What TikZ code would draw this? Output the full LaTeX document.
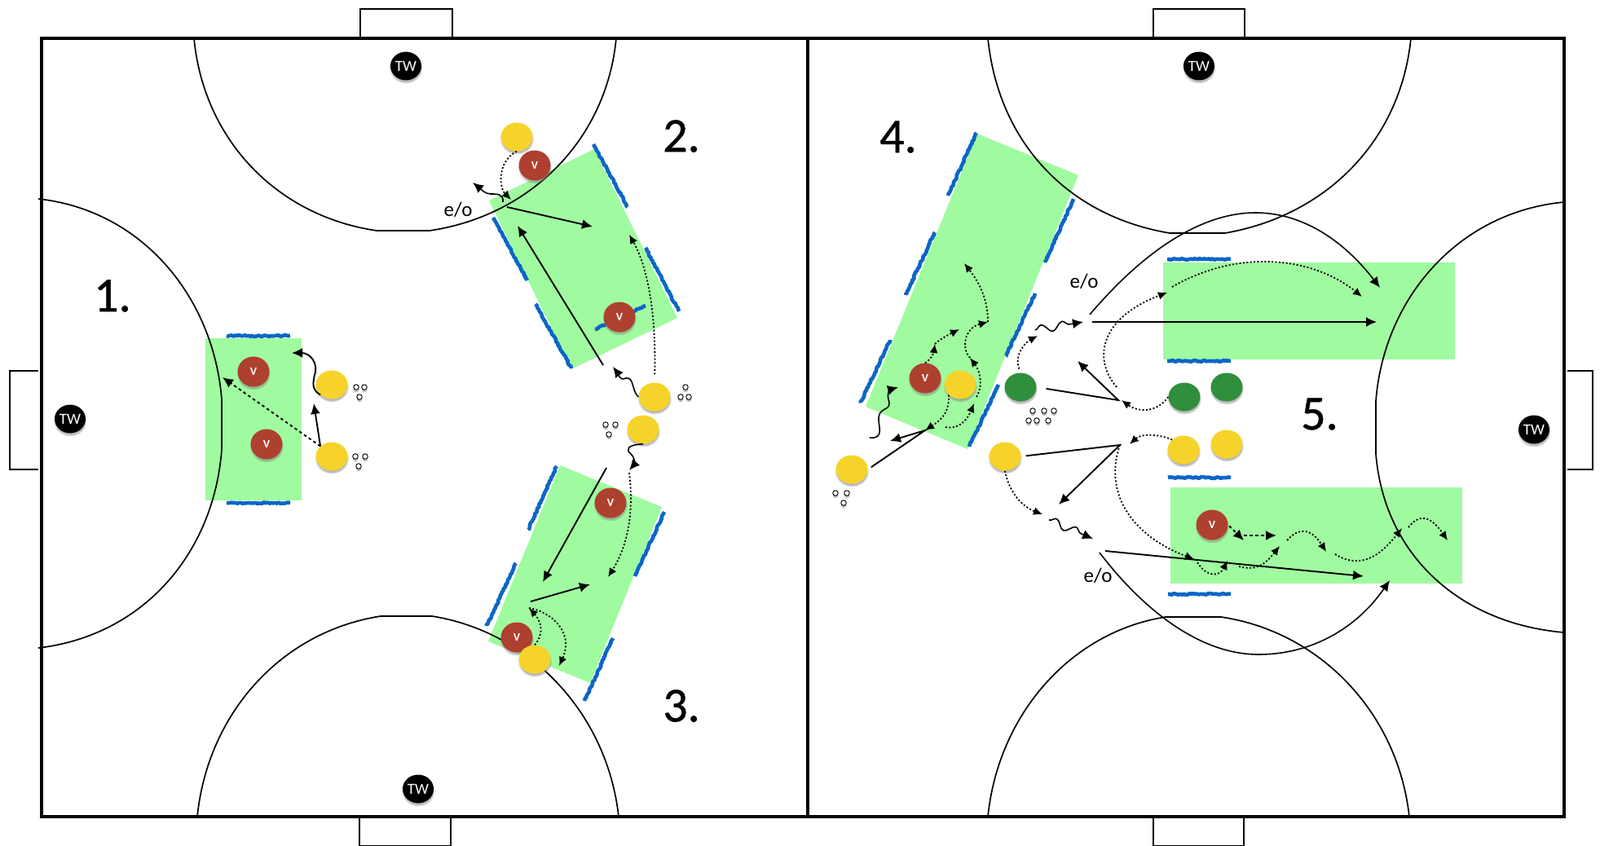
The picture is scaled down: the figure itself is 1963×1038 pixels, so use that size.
\documentclass[tikz,border=0pt]{standalone}
\usepackage{fontspec}
\setmainfont{Carlito}
\newfontfamily\numfont[FakeBold=0.8]{Carlito}
\usetikzlibrary{arrows.meta,shapes.geometric,shadows,decorations.pathmorphing}
\definecolor{zonegreen}{HTML}{9BFB9B}
\definecolor{stripeblue}{HTML}{0B66C6}
\definecolor{plyellow}{HTML}{F6D32A}
\definecolor{plred}{HTML}{AE4030}
\definecolor{plgreen}{HTML}{2F8F3C}

\begin{document}
\begin{tikzpicture}[x=1pt, y=-1pt]

\tikzstyle{zone} 	= [fill = zonegreen, fill opacity = 0.95] % training area
\tikzstyle{stripe} 	= [color = stripeblue, line width = 4.6pt, line join = bevel, decorate, decoration = {random steps, amplitude = 0.9pt, segment length = 2.2pt}] % blue side marker
\tikzstyle{line} 	= [color = black, line width = 1.7pt] % court lines
\tikzstyle{border} 	= [color = black, line width = 3.4pt] % outer court lines
\tikzstyle{shade} 	= [circular drop shadow = {shadow xshift = 0pt, shadow yshift = -2.5pt, shadow scale = 1.08, opacity = 0.55}]
\tikzstyle{player} 	= [shape = ellipse, inner sep = 0pt, minimum width = 39pt, minimum height = 35pt, shade] % define player
\tikzstyle{atk} 	= [player, fill = plyellow]
\tikzstyle{opp} 	= [player, fill = plgreen]
\tikzstyle{vert} 	= [player, fill = plred, minimum height = 37pt, text = white, font = \fontsize{14}{14}\selectfont\bfseries]
\tikzstyle{tw} 		= [player, fill = black, minimum width = 38pt, text = white, font = \fontsize{19}{19}\selectfont]
\tikzstyle{ball} 	= [draw, shape = circle, fill = white, inner sep = 0pt, minimum size = 6.5pt, line width = 0.9pt, shade]
\tikzstyle{num} 	= [font = \fontsize{60}{60}\numfont] % number of the station
\tikzstyle{eo} 		= [font = \fontsize{25}{25}\selectfont]
\tikzstyle{arrow} 	= [color = black, line width = 1.9pt, -{Latex[length = 13pt, width = 12pt]}] % define standard arrow
\tikzstyle{dashl} 	= [arrow, dash pattern = on 3.5pt off 3.5pt]
\tikzstyle{dotl} 	= [color = black, line width = 1.8pt, dash pattern = on 2pt off 2.4pt, -{Latex[length = 11pt, width = 10pt]}]
\tikzstyle{wave} 	= [arrow, line width = 1.6pt, decorate, decoration = {snake, amplitude = 5pt, segment length = 26pt, post length = 7pt}]

\useasboundingbox (0,0) rectangle (1963,1038);

% green areas
\fill[zone] (252,415) rectangle (370,614);
\fill[zone] (729,183) -- (831,390) -- (701,453) -- (600,246) -- cycle;
\fill[zone] (687,571) -- (812,622) -- (724,838) -- (599,787) -- cycle;
\fill[zone] (1199,164) -- (1323,215) -- (1187,551) -- (1062,499) -- cycle;
\fill[zone] (1427,322) rectangle (1785,441);
\fill[zone] (1436,598) rectangle (1794,716);

% blue markers
\draw[stripe] (278,412) -- (356,412);
\draw[stripe] (278,617) -- (356,617);
\draw[stripe] (728,177) -- (770,254);
\draw[stripe] (792,304) -- (833,382);
\draw[stripe] (605,267) -- (647,344);
\draw[stripe] (657,373) -- (701,452);
\draw[stripe] (730,404) -- (792,375);
\draw[stripe] (683,572) -- (648,650);
\draw[stripe] (633,691) -- (597,768);
\draw[stripe] (815,628) -- (779,707);
\draw[stripe] (752,783) -- (717,860);
\draw[stripe] (1198,163) -- (1163,240);
\draw[stripe] (1147,285) -- (1111,362);
\draw[stripe] (1092,417) -- (1056,494);
\draw[stripe] (1317,244) -- (1282,322);
\draw[stripe] (1270,360) -- (1234,437);
\draw[stripe] (1225,472) -- (1189,548);
\draw[stripe] (1432,318) -- (1510,318);
\draw[stripe] (1432,443) -- (1510,443);
\draw[stripe] (1433,586) -- (1510,586);
\draw[stripe] (1433,729) -- (1510,729);

% court
\draw[border] (51,47) rectangle (1919,1002);
\draw[border] (991,47) -- (991,1002);
\draw[line] (442,45) -- (442,11) -- (555,11) -- (555,45);
\draw[line] (1415,45) -- (1415,11) -- (1527,11) -- (1527,45);
\draw[line] (441,1004) -- (441,1038) -- (553,1038) -- (553,1004);
\draw[line] (1415,1004) -- (1415,1038) -- (1526,1038) -- (1526,1004);
\draw[line] (47,455) -- (12,455) -- (12,576) -- (47,576);
\draw[line] (1923,455) -- (1954,455) -- (1954,576) -- (1923,576);

% goal areas
\draw[line] (238,47) .. controls (250,172) and (340,265) .. (462,283) -- (527,283) .. controls (650,265) and (744,172) .. (756,47);
\draw[line] (242,1002) .. controls (255,875) and (345,775) .. (467,756) -- (530,756) .. controls (650,775) and (745,875) .. (759,1002);
\draw[line] (47,244) .. controls (175,258) and (262,365) .. (272,490) -- (272,552) .. controls (262,680) and (175,780) .. (47,795);
\draw[line] (1212,47) .. controls (1225,175) and (1310,265) .. (1435,286) -- (1503,286) .. controls (1625,265) and (1718,175) .. (1731,47);
\draw[line] (1212,1002) .. controls (1225,875) and (1315,775) .. (1430,757) -- (1498,757) .. controls (1620,775) and (1715,875) .. (1729,1002);
\draw[line] (1919,248) .. controls (1790,260) and (1698,365) .. (1688,492) -- (1688,557) .. controls (1698,680) and (1790,765) .. (1919,776);

% goalkeepers
\node(tw1)[tw] at (498,81){TW};
\node(tw2)[tw] at (1471,81){TW};
\node(tw3)[tw] at (86,514){TW};
\node(tw4)[tw] at (1882,527){TW};
\node(tw5)[tw] at (513,968){TW};

% numbers and labels
\node(n1)[num] at (138,363){1.};
\node(n2)[num] at (836,167){2.};
\node(n3)[num] at (836,866){3.};
\node(n4)[num] at (1102,168){4.};
\node(n5)[num] at (1619,508){5.};
\node(eo1)[eo] at (562,257){e/o};
\node(eo2)[eo] at (1330,345){e/o};
\node(eo3)[eo] at (1347,706){e/o};

% players
\node(v1)[vert] at (311,456){V};
\node(v2)[vert] at (327,545){V};
\node(y1)[atk] at (407,472){};
\node(y2)[atk] at (407,560){};
\node(y3)[atk] at (634,168){};
\node(v3)[vert] at (656,203){V};
\node(v4)[vert] at (760,389){V};
\node(y4)[atk] at (803,487){};
\node(y5)[atk] at (789,527){};
\node(v5)[vert] at (749,617){V};
\node(v6)[vert] at (634,782){V};
\node(y6)[atk] at (656,809){};
\node(v7)[vert] at (1135,464){V};
\node(y7)[atk] at (1178,472){};
\node(y8)[atk] at (1045,576){};
\node(g1)[opp] at (1252,475){};
\node(y9)[atk] at (1233,560){};
\node(g2)[opp] at (1453,487){};
\node(g3)[opp] at (1505,475){};
\node(y10)[atk] at (1452,552){};
\node(y11)[atk] at (1505,545){};
\node(v8)[vert] at (1487,644){V};

% balls
\foreach \i/\x/\y in {1/437/475, 2/447/475, 3/441/487, 4/436/560, 5/448/560, 6/440/572,
	7/841/475, 8/835/487, 9/845/487, 10/743/521, 11/755/521, 12/747/533,
	13/1025/605, 14/1039/605, 15/1035/617,
	16/1267/504, 17/1281/504, 18/1293/504, 19/1262/516, 20/1272/516, 21/1286/516}
	\node(ball\i)[ball] at (\x,\y){};

% station 1
\coordinate(a1) at (358,433);
\coordinate(a2) at (385,495);
\coordinate(a3) at (273,463);
\draw[arrow](y1.south west) .. controls (382,478) and (384,470) .. (386,460) .. controls (391,445) and (380,433) .. (a1);
\draw[arrow](y2.north west)--(a2);
\draw[dashl](y2.north west)--(a3);

% station 2
\coordinate(b1) at (622,254);
\coordinate(b2) at (727,278);
\coordinate(b3) at (740,448);
\coordinate(b4) at (635,277);
\coordinate(b5) at (772,288);
\coordinate(b6) at (627,245);
\coordinate(b7) at (617,248);
\coordinate(b8) at (580,224);
\coordinate(b9) at (752,450);
\draw[arrow](b1)--(b2);
\draw[arrow](b3)--(b4);
\draw[dotl, shorten <=10pt](y4.north) .. controls (805,390) and (796,330) .. (b5);
\draw[dotl](y3.south) .. controls (610,198) and (612,230) .. (b6);
\draw[arrow, line width=1.6pt](b7) .. controls (618,238) and (610,238) .. (602,238) .. controls (595,238) and (590,232) .. (b8);
\draw[arrow, line width=1.6pt](y4.west) .. controls (775,480) and (778,462) .. (768,464) .. controls (760,468) and (758,458) .. (b9);

% station 3
\coordinate(c1) at (744,574);
\coordinate(c2) at (666,714);
\coordinate(c3) at (651,738);
\coordinate(c4) at (724,717);
\coordinate(c5) at (772,577);
\coordinate(c6) at (772,580);
\coordinate(c7) at (746,708);
\coordinate(c8) at (649,746);
\coordinate(c9) at (686,817);
\draw[arrow, line width=1.6pt](y5.south) .. controls (768,546) and (768,552) .. (774,557) .. controls (780,563) and (778,570) .. (c5);
\draw[arrow](c1)--(c2);
\draw[arrow](c3)--(c4);
\draw[dotl](c6) .. controls (778,630) and (770,670) .. (c7);
\draw[dotl](y6.north) .. controls (668,778) and (664,762) .. (c8);
\draw[dotl](c8) .. controls (675,750) and (705,775) .. (c9);

% station 4
\coordinate(d1) at (1135,528);
\coordinate(d2) at (1092,541);
\coordinate(d3) at (1067,537);
\coordinate(d4) at (1102,475);
\coordinate(d5) at (1160,524);
\coordinate(d6) at (1195,495);
\coordinate(d7) at (1198,487);
\coordinate(d8) at (1190,439);
\coordinate(d9) at (1212,395);
\coordinate(d10) at (1183,323);
\coordinate(d11) at (1147,422);
\coordinate(d12) at (1177,404);
\draw[arrow, shorten <=5pt](y8.east)--(d1)--(d2);
\draw[arrow, line width=1.6pt](d3) .. controls (1086,539) and (1077,522) .. (1078,512) .. controls (1080,498) and (1095,505) .. (1090,490) .. controls (1088,482) and (1092,478) .. (d4);
\draw[dotl](y7.south west) .. controls (1165,510) and (1150,518) .. (d1);
\draw[dotl](d5) .. controls (1178,528) and (1188,512) .. (d6);
\draw[dotl](d7) .. controls (1208,470) and (1200,452) .. (d8);
\draw[dotl](d8) .. controls (1178,425) and (1185,402) .. (d9);
\draw[dotl](d9) .. controls (1212,365) and (1200,345) .. (d10);
\draw[dotl](v7.north) .. controls (1144,440) and (1146,430) .. (d11);
\draw[dotl](d11) .. controls (1155,415) and (1165,410) .. (d12);

% station 5, green side
\coordinate(e1) at (1273,412);
\coordinate(e2) at (1270,405);
\coordinate(e3) at (1329,395);
\coordinate(e4) at (1337,386);
\coordinate(e5) at (1693,353);
\coordinate(e6) at (1340,395);
\coordinate(e7) at (1689,395);
\coordinate(e8) at (1370,475);
\coordinate(e9) at (1432,359);
\coordinate(e10) at (1438,352);
\coordinate(e11) at (1671,364);
\coordinate(e12) at (1372,491);
\coordinate(e13) at (1322,443);
\coordinate(e14) at (1376,491);
\draw[dotl, shorten <=5pt](g1.north) .. controls (1244,435) and (1258,420) .. (e1);
\draw[wave](e2)--(e3);
\draw[arrow, line width=1.6pt](e4) .. controls (1410,300) and (1480,261) .. (1540,261) .. controls (1610,261) and (1660,310) .. (e5);
\draw[arrow](e6)--(e7);
\draw[dotl](e8) .. controls (1340,440) and (1350,390) .. (e9);
\draw[dotl](e10) .. controls (1520,305) and (1610,315) .. (e11);
\draw[arrow, shorten <=12pt](g1.east)--(e12)--(e13);
\draw[dotl](g2.west) .. controls (1418,508) and (1395,505) .. (e14);

% station 5, yellow side
\coordinate(f1) at (1374,546);
\coordinate(f2) at (1299,619);
\coordinate(f3) at (1386,545);
\coordinate(f4) at (1465,686);
\coordinate(f5) at (1279,631);
\coordinate(f6) at (1287,638);
\coordinate(f7) at (1341,661);
\coordinate(f8) at (1356,676);
\coordinate(f9) at (1673,707);
\coordinate(f10) at (1349,678);
\coordinate(f11) at (1705,712);
\draw[arrow, shorten <=6pt](y9.east)--(f1)--(f2);
\draw[dotl](y10.north west) .. controls (1420,532) and (1400,532) .. (f3);
\draw[dotl](f1) .. controls (1352,610) and (1395,660) .. (f4);
\draw[dotl](y9.south) .. controls (1238,605) and (1255,622) .. (f5);
\draw[wave](f6)--(f7);
\draw[arrow](f8)--(f9);
\draw[arrow, line width=1.6pt](f10) .. controls (1400,745) and (1470,803) .. (1544,803) .. controls (1610,803) and (1665,770) .. (f11);

% run with the ball in the lower area
\coordinate(h1) at (1526,663);
\coordinate(h2) at (1526,657);
\coordinate(h3) at (1566,657);
\coordinate(h4) at (1469,690);
\coordinate(h5) at (1506,688);
\coordinate(h6) at (1520,695);
\coordinate(h7) at (1570,670);
\coordinate(h8) at (1579,663);
\coordinate(h9) at (1627,677);
\coordinate(h10) at (1638,680);
\coordinate(h11) at (1720,648);
\coordinate(h12) at (1728,647);
\coordinate(h13) at (1776,663);
\draw[dashl, shorten <=2pt](v8.east)--(h1);
\draw[dashl](h2)--(h3);
\draw[dotl](h4) .. controls (1480,708) and (1496,708) .. (h5);
\draw[dotl](h6) .. controls (1540,700) and (1550,695) .. (h7);
\draw[dotl](h8) .. controls (1595,645) and (1610,650) .. (h9);
\draw[dotl](h10) .. controls (1670,700) and (1695,680) .. (h11);
\draw[dotl](h12) .. controls (1745,625) and (1760,640) .. (h13);
\end{tikzpicture}
\end{document}
